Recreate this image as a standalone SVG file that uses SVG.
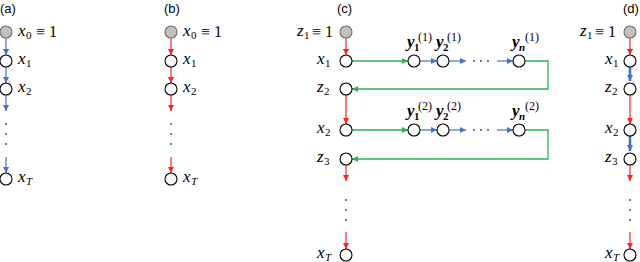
<svg xmlns="http://www.w3.org/2000/svg" width="640" height="262" viewBox="0 0 640 262">
<style>
.n{fill:#fff;stroke:#000;stroke-width:1.1}
.g{fill:#c0c0c0;stroke:#6f6f6f;stroke-width:1.1}
.t{font-family:"Liberation Serif",serif;font-style:italic;font-size:17px;fill:#000}
.s{font-family:"Liberation Serif",serif;font-size:11px;fill:#000}
.si{font-family:"Liberation Serif",serif;font-style:italic;font-size:11px;fill:#000}
.u{font-family:"Liberation Serif",serif;font-size:16px;fill:#000}
.yb{font-family:"Liberation Serif",serif;font-style:italic;font-weight:bold;font-size:17px;fill:#000}
.ys{font-family:"Liberation Serif",serif;font-weight:bold;font-size:11px;fill:#000}
.ysi{font-family:"Liberation Serif",serif;font-style:italic;font-weight:bold;font-size:11px;fill:#000}
.yp{font-family:"Liberation Serif",serif;font-size:12px;fill:#000}
.p{font-family:"Liberation Sans",sans-serif;font-size:13px;fill:#000}
.b{stroke:#4472c4;stroke-width:1.2;fill:none}
.bt{stroke:#4472c4;stroke-width:2.6;fill:none}
.r{stroke:#ff2020;stroke-width:1.2;fill:none}
.gr{stroke:#2bb24c;stroke-width:1.3;fill:none}
.d{fill:#2f5597}
</style>
<defs>
<marker id="ab" markerUnits="userSpaceOnUse" markerWidth="6" markerHeight="6" viewBox="0 0 6 6" refX="6" refY="3" orient="auto"><path d="M0,0 L6,3 L0,6 z" fill="#4472c4"/></marker>
<marker id="ar" markerUnits="userSpaceOnUse" markerWidth="6" markerHeight="6" viewBox="0 0 6 6" refX="6" refY="3" orient="auto"><path d="M0,0 L6,3 L0,6 z" fill="#ff2020"/></marker>
<marker id="ag" markerUnits="userSpaceOnUse" markerWidth="6" markerHeight="6" viewBox="0 0 6 6" refX="6" refY="3" orient="auto"><path d="M0,0 L6,3 L0,6 z" fill="#2bb24c"/></marker>
</defs>

<g id="labels">
<text class="p" x="0" y="13">(a)</text>
<text class="p" x="164" y="13">(b)</text>
<text class="p" x="337" y="13">(c)</text>
<text class="p" x="623" y="13">(d)</text>
</g>

<g id="connectors">
<!-- (a) -->
<line class="b" x1="6" y1="38" x2="6" y2="55" marker-end="url(#ab)"/>
<line class="b" x1="6" y1="67" x2="6" y2="83" marker-end="url(#ab)"/>
<line class="b" x1="6" y1="95" x2="6" y2="111" marker-end="url(#ab)"/>
<line class="b" x1="6" y1="157" x2="6" y2="173" marker-end="url(#ab)"/>
<!-- (b) -->
<line class="r" x1="171" y1="38" x2="171" y2="55" marker-end="url(#ar)"/>
<line class="r" x1="171" y1="67" x2="171" y2="83" marker-end="url(#ar)"/>
<line class="r" x1="171" y1="95" x2="171" y2="111" marker-end="url(#ar)"/>
<line class="r" x1="171" y1="157" x2="171" y2="173" marker-end="url(#ar)"/>
<!-- (c) -->
<line class="r" x1="346" y1="38" x2="346" y2="55" marker-end="url(#ar)"/>
<line class="r" x1="346" y1="95" x2="346" y2="124" marker-end="url(#ar)"/>
<line class="r" x1="346" y1="165" x2="346" y2="181" marker-end="url(#ar)"/>
<line class="r" x1="346" y1="232" x2="346" y2="249" marker-end="url(#ar)"/>
<line class="gr" x1="352" y1="61" x2="408" y2="61" marker-end="url(#ag)"/>
<line class="b" x1="420" y1="61" x2="437" y2="61" marker-end="url(#ab)"/>
<line class="b" x1="449" y1="61" x2="466" y2="61" marker-end="url(#ab)"/>
<line class="b" x1="497" y1="61" x2="513" y2="61" marker-end="url(#ab)"/>
<polyline class="gr" points="525,61 548,61 548,89 352,89" marker-end="url(#ag)"/>
<line class="gr" x1="352" y1="130" x2="408" y2="130" marker-end="url(#ag)"/>
<line class="b" x1="420" y1="130" x2="437" y2="130" marker-end="url(#ab)"/>
<line class="b" x1="449" y1="130" x2="466" y2="130" marker-end="url(#ab)"/>
<line class="b" x1="497" y1="130" x2="513" y2="130" marker-end="url(#ab)"/>
<polyline class="gr" points="525,130 548,130 548,159 352,159" marker-end="url(#ag)"/>
<!-- (d) -->
<line class="r" x1="630" y1="38" x2="630" y2="55" marker-end="url(#ar)"/>
<line class="bt" x1="630" y1="67" x2="630" y2="81" marker-end="url(#ab)"/>
<line class="r" x1="630" y1="95" x2="630" y2="124" marker-end="url(#ar)"/>
<line class="bt" x1="630" y1="136" x2="630" y2="151" marker-end="url(#ab)"/>
<line class="r" x1="630" y1="165" x2="630" y2="181" marker-end="url(#ar)"/>
<line class="r" x1="630" y1="232" x2="630" y2="249" marker-end="url(#ar)"/>
</g>

<g id="ellipsis">
<circle class="d" cx="6" cy="124" r="1"/><circle class="d" cx="6" cy="134" r="1"/><circle class="d" cx="6" cy="144" r="1"/>
<circle class="d" cx="171" cy="124" r="1"/><circle class="d" cx="171" cy="134" r="1"/><circle class="d" cx="171" cy="144" r="1"/>
<circle class="d" cx="346" cy="200" r="1"/><circle class="d" cx="346" cy="210" r="1"/><circle class="d" cx="346" cy="220" r="1"/>
<circle class="d" cx="630" cy="200" r="1"/><circle class="d" cx="630" cy="210" r="1"/><circle class="d" cx="630" cy="220" r="1"/>
<circle class="d" cx="474" cy="61" r="1"/><circle class="d" cx="481" cy="61" r="1"/><circle class="d" cx="488" cy="61" r="1"/>
<circle class="d" cx="474" cy="130" r="1"/><circle class="d" cx="481" cy="130" r="1"/><circle class="d" cx="488" cy="130" r="1"/>
</g>

<!-- (a) nodes -->
<g id="a-x0"><circle class="g" cx="6" cy="32" r="6"/><text class="t" x="18" y="36">x</text><text class="s" x="26" y="39">0</text><text class="u" x="36" y="37">≡ 1</text></g>
<g id="a-x1"><circle class="n" cx="6" cy="61" r="6"/><text class="t" x="18" y="64">x</text><text class="s" x="26" y="67">1</text></g>
<g id="a-x2"><circle class="n" cx="6" cy="89" r="6"/><text class="t" x="18" y="92">x</text><text class="s" x="26" y="95">2</text></g>
<g id="a-xT"><circle class="n" cx="6" cy="179" r="6"/><text class="t" x="18" y="182">x</text><text class="si" x="26" y="185">T</text></g>

<!-- (b) nodes -->
<g id="b-x0"><circle class="g" cx="171" cy="32" r="6"/><text class="t" x="183" y="36">x</text><text class="s" x="191" y="39">0</text><text class="u" x="201" y="37">≡ 1</text></g>
<g id="b-x1"><circle class="n" cx="171" cy="61" r="6"/><text class="t" x="183" y="64">x</text><text class="s" x="191" y="67">1</text></g>
<g id="b-x2"><circle class="n" cx="171" cy="89" r="6"/><text class="t" x="183" y="92">x</text><text class="s" x="191" y="95">2</text></g>
<g id="b-xT"><circle class="n" cx="171" cy="179" r="6"/><text class="t" x="183" y="182">x</text><text class="si" x="191" y="185">T</text></g>

<!-- (c) nodes -->
<g id="c-z1"><circle class="g" cx="346" cy="32" r="6"/><text class="t" x="297" y="36">z</text><text class="s" x="304" y="39">1</text><text class="u" x="312" y="37">≡ 1</text></g>
<g id="c-x1"><circle class="n" cx="346" cy="61" r="6"/><text class="t" x="317" y="64">x</text><text class="s" x="325" y="67">1</text></g>
<g id="c-z2"><circle class="n" cx="346" cy="89" r="6"/><text class="t" x="317" y="92">z</text><text class="s" x="324" y="95">2</text></g>
<g id="c-x2"><circle class="n" cx="346" cy="130" r="6"/><text class="t" x="317" y="133">x</text><text class="s" x="325" y="136">2</text></g>
<g id="c-z3"><circle class="n" cx="346" cy="159" r="6"/><text class="t" x="317" y="162">z</text><text class="s" x="324" y="165">3</text></g>
<g id="c-xT"><circle class="n" cx="346" cy="255" r="6"/><text class="t" x="317" y="258">x</text><text class="si" x="325" y="261">T</text></g>
<g id="c-y11"><circle class="n" cx="414" cy="61" r="6"/><text class="yb" x="407" y="47">y</text><text class="ys" x="414" y="51">1</text><text class="yp" x="418" y="41">(1)</text></g>
<g id="c-y21"><circle class="n" cx="443" cy="61" r="6"/><text class="yb" x="436" y="47">y</text><text class="ys" x="443" y="51">2</text><text class="yp" x="447" y="41">(1)</text></g>
<g id="c-yn1"><circle class="n" cx="519" cy="61" r="6"/><text class="yb" x="512" y="47">y</text><text class="ysi" x="519" y="51">n</text><text class="yp" x="525" y="41">(1)</text></g>
<g id="c-y12"><circle class="n" cx="414" cy="130" r="6"/><text class="yb" x="407" y="116">y</text><text class="ys" x="414" y="120">1</text><text class="yp" x="418" y="110">(2)</text></g>
<g id="c-y22"><circle class="n" cx="443" cy="130" r="6"/><text class="yb" x="436" y="116">y</text><text class="ys" x="443" y="120">2</text><text class="yp" x="447" y="110">(2)</text></g>
<g id="c-yn2"><circle class="n" cx="519" cy="130" r="6"/><text class="yb" x="512" y="116">y</text><text class="ysi" x="519" y="120">n</text><text class="yp" x="525" y="110">(2)</text></g>

<!-- (d) nodes -->
<g id="d-z1"><circle class="g" cx="630" cy="32" r="6"/><text class="t" x="580" y="36">z</text><text class="s" x="587" y="39">1</text><text class="u" x="595" y="37">≡ 1</text></g>
<g id="d-x1"><circle class="n" cx="630" cy="61" r="6"/><text class="t" x="605" y="64">x</text><text class="s" x="613" y="67">1</text></g>
<g id="d-z2"><circle class="n" cx="630" cy="89" r="6"/><text class="t" x="605" y="92">z</text><text class="s" x="612" y="95">2</text></g>
<g id="d-x2"><circle class="n" cx="630" cy="130" r="6"/><text class="t" x="605" y="133">x</text><text class="s" x="613" y="136">2</text></g>
<g id="d-z3"><circle class="n" cx="630" cy="159" r="6"/><text class="t" x="605" y="162">z</text><text class="s" x="612" y="165">3</text></g>
<g id="d-xT"><circle class="n" cx="630" cy="255" r="6"/><text class="t" x="605" y="258">x</text><text class="si" x="613" y="261">T</text></g>
</svg>
